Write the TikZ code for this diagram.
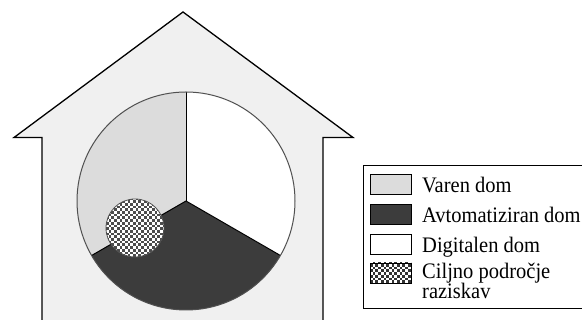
\documentclass[tikz,border=0pt]{standalone}
\usepackage{fontspec}
\setmainfont{Liberation Serif}
\definecolor{housefill}{HTML}{F0F0F0}
\definecolor{lightsec}{HTML}{DCDCDC}
\definecolor{darksec}{HTML}{3C3C3C}
\definecolor{rimgray}{HTML}{505050}
\tikzset{
  outline/.style={draw=black, line width=1.3pt, line join=miter},
  swatch/.style={draw=black, line width=1.2pt},
  legendtext/.style={anchor=base west, inner sep=0pt, font=\fontsize{20.5}{20}\selectfont},
}
% checkerboard of small squares inside the current clip
\newcommand\checkcells[6]{% x0, y0, nx, ny, cell, colour
  \foreach \i in {0,...,#3}{\foreach \j in {0,...,#4}{%
    \pgfmathtruncatemacro\cellpar{mod(\i+\j,2)}%
    \ifnum\cellpar=0 \fill[#6] ({#1+\i*#5},{#2+\j*#5}) rectangle ++(#5,#5);\fi}}}
\newcommand\tallertext[1]{\scalebox{1}[1.08]{#1}}
\begin{document}
\begin{tikzpicture}[x=1pt,y=1pt]
\useasboundingbox (0,0) rectangle (582,320);
\fill[white] (0,0) rectangle (582,320);

% house outline
\coordinate (apex) at (183,308);
\coordinate (ltip) at (14,182.5);
\coordinate (lin) at (42,182.5);
\coordinate (lbot) at (42,-10);
\coordinate (rtip) at (353,182.5);
\coordinate (rin) at (323,182.5);
\coordinate (rbot) at (323,-10);
\filldraw[outline, fill=housefill] (lbot) -- (lin) -- (ltip) -- (apex) -- (rtip) -- (rin) -- (rbot);

% pie of three sectors
\coordinate (c) at (186,119);
\def\R{109}
\fill[lightsec] (c) -- ++(90:\R) arc[start angle=90, end angle=210, radius=\R] -- cycle;
\fill[darksec] (c) -- ++(210:\R) arc[start angle=210, end angle=330, radius=\R] -- cycle;
\fill[white] (c) -- ++(-30:\R) arc[start angle=-30, end angle=90, radius=\R] -- cycle;
\draw[black, line width=1pt] (c) -- ++(90:\R);
\draw[black, line width=1pt] (c) -- ++(210:\R);
\draw[black, line width=1pt] (c) -- ++(-30:\R);
\draw[rimgray, line width=1pt] (c) circle[radius=\R];

% research focus area
\coordinate (t) at (135,92);
\begin{scope}
  \clip (t) circle[radius=29];
  \fill[white] (106,63) rectangle (164,121);
  \checkcells{106}{63}{22}{22}{2.7}{black!70}
\end{scope}
\draw[rimgray, line width=0.8pt] (t) circle[radius=29];

% legend
\draw[black, line width=1pt] (363,11) rectangle (600,154);
\node[swatch, fill=lightsec, minimum width=41pt, minimum height=20pt, inner sep=0pt, anchor=north west] (s1) at (370,146) {};
\node[swatch, fill=darksec, minimum width=41pt, minimum height=20pt, inner sep=0pt, anchor=north west] (s2) at (370,116) {};
\node[swatch, fill=white, minimum width=41pt, minimum height=20pt, inner sep=0pt, anchor=north west] (s3) at (370,86) {};
\begin{scope}
  \clip (370,37) rectangle (411,57);
  \fill[white] (370,37) rectangle (411,57);
  \checkcells{370}{37}{15}{8}{2.7}{black!80}
\end{scope}
\node[swatch, minimum width=41pt, minimum height=20pt, inner sep=0pt, anchor=north west] (s4) at (370,57) {};

\node[legendtext] (l1) at (422,127) {\tallertext{Varen dom}};
\node[legendtext] (l2) at (422,97) {\tallertext{Avtomatiziran dom}};
\node[legendtext] (l3) at (422,67) {\tallertext{Digitalen dom}};
\node[legendtext] (l4) at (422,41) {\tallertext{Ciljno področje}};
\node[legendtext] (l5) at (422,21) {\tallertext{raziskav}};
\end{tikzpicture}
\end{document}
